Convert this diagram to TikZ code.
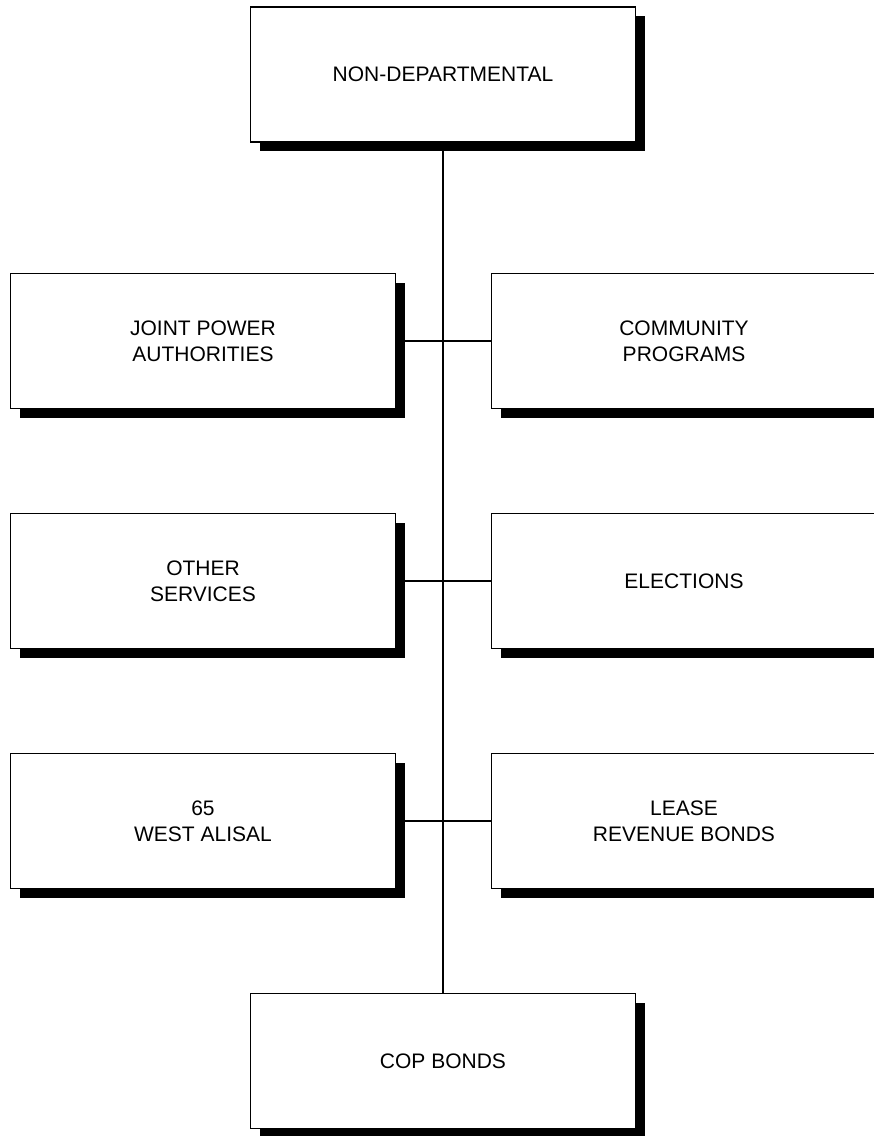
\documentclass[tikz,border=0pt]{standalone}
\usepackage{fontspec}
\setmainfont{Liberation Sans}
\usetikzlibrary{shadows}
\begin{document}
\begin{tikzpicture}[x=1pt,y=1pt,
  orgbox/.style={draw=black, fill=white, line width=1.8pt, rectangle,
    minimum width=385pt, minimum height=135pt, align=center,
    inner sep=0pt, font=\fontsize{21}{26}\selectfont,
    drop shadow={shadow xshift=9pt, shadow yshift=-9pt, fill=black, opacity=1}},
  link/.style={draw=black, line width=1.8pt}]
\useasboundingbox (0,0) rectangle (874,-1136);
\fill[white] (0,0) rectangle (874,-1136);

% head of the chart
\node[orgbox] (top) at (443,-74.5) {NON-DEPARTMENTAL};

% left column
\node[orgbox] (jpa)    at (203,-341) {JOINT POWER\\AUTHORITIES};
\node[orgbox] (other)  at (203,-581) {OTHER\\SERVICES};
\node[orgbox] (alisal) at (203,-821) {65\\WEST ALISAL};

% right column
\node[orgbox] (comm)  at (684,-341) {COMMUNITY\\PROGRAMS};
\node[orgbox] (elect) at (684,-581) {ELECTIONS};
\node[orgbox] (lease) at (684,-821) {LEASE\\REVENUE BONDS};

% bottom box
\node[orgbox] (cop) at (443,-1061) {COP BONDS};

% connectors: central spine and the three cross links
\draw[link] (top.south) -- (cop.north);
\draw[link] (jpa.east) -- (comm.west);
\draw[link] (other.east) -- (elect.west);
\draw[link] (alisal.east) -- (lease.west);
\end{tikzpicture}
\end{document}
